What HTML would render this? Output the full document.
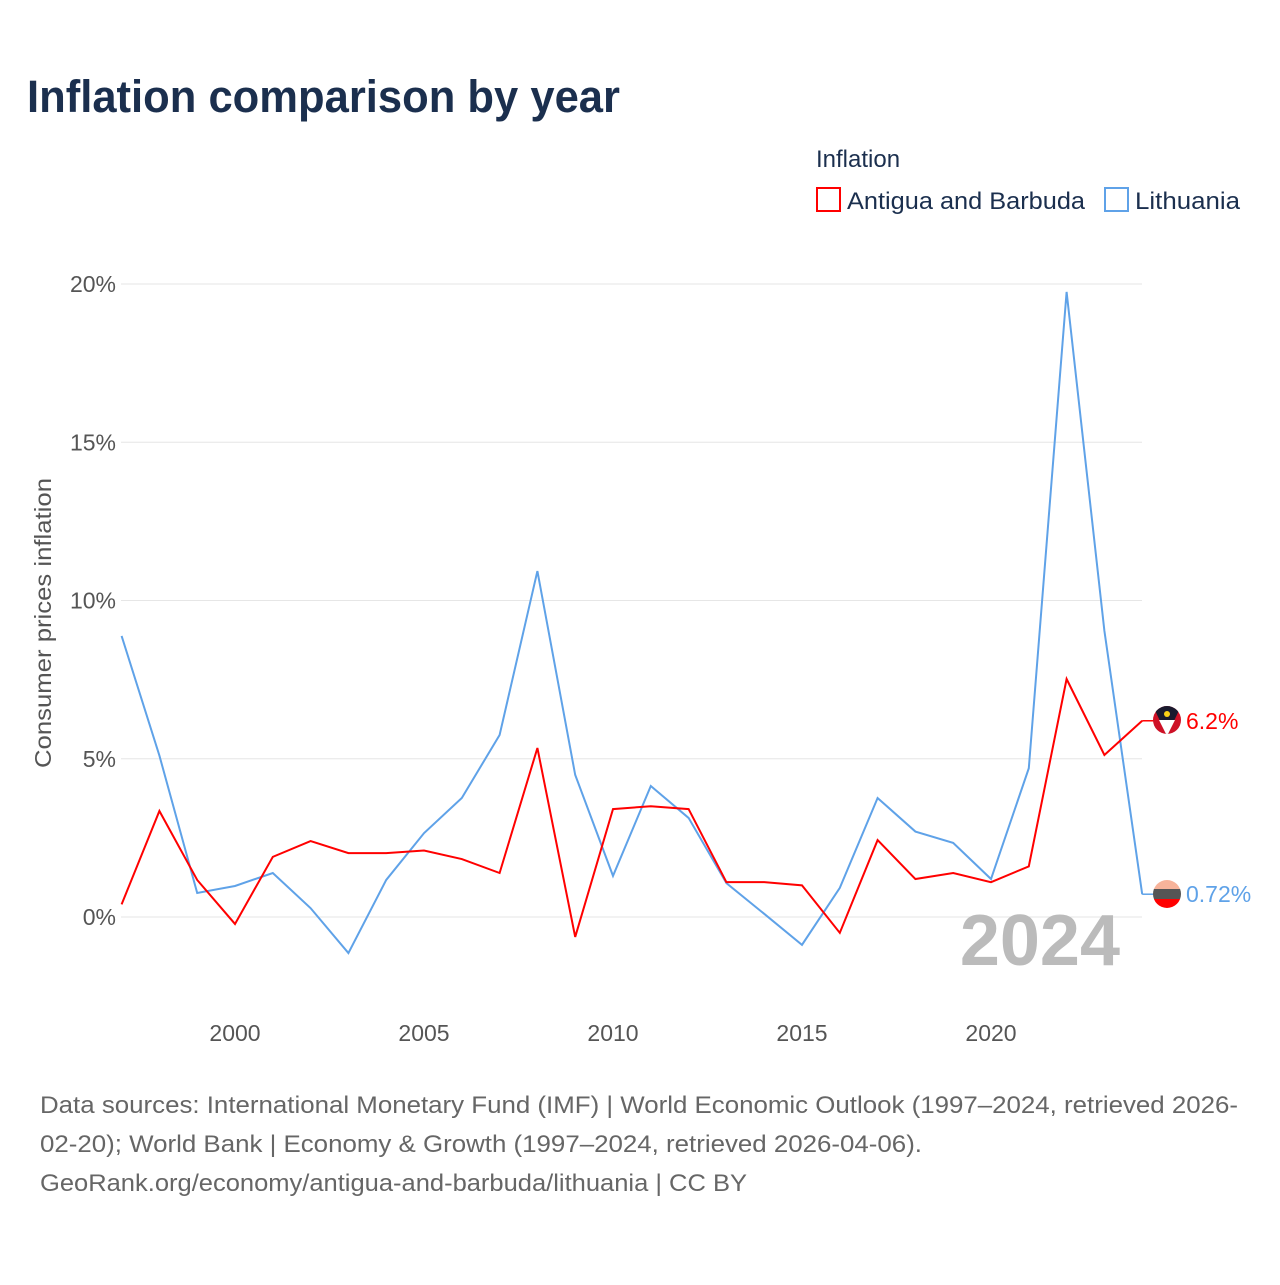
<!DOCTYPE html>
<html><head><meta charset="utf-8"><style>
body{margin:0;background:#fff;font-family:"Liberation Sans",sans-serif}
</style></head><body>
<svg width="1280" height="1280" viewBox="0 0 1280 1280" xmlns="http://www.w3.org/2000/svg">
<defs>
<clipPath id="c1"><circle cx="1167" cy="720" r="14"/></clipPath>
<clipPath id="c2"><circle cx="1167" cy="894" r="14"/></clipPath>
</defs>
<text x="27" y="112" font-size="45" font-weight="bold" fill="#1b2f4e" textLength="593" lengthAdjust="spacingAndGlyphs">Inflation comparison by year</text>
<text x="816" y="167" font-size="24" fill="#1b2f4e">Inflation</text>
<g><rect x="817" y="188" width="23" height="23" fill="none" stroke="#f00" stroke-width="2"/><text x="847" y="209" font-size="24" fill="#1b2f4e" textLength="238" lengthAdjust="spacingAndGlyphs">Antigua and Barbuda</text></g>
<g><rect x="1105" y="188" width="23" height="23" fill="none" stroke="#5fa2e8" stroke-width="2"/><text x="1135" y="209" font-size="24" fill="#1b2f4e" textLength="105" lengthAdjust="spacingAndGlyphs">Lithuania</text></g>
<g id="grid"></g><g id="ticks"></g>
<text transform="translate(51,623) rotate(-90)" text-anchor="middle" font-size="23" fill="#555" textLength="290" lengthAdjust="spacingAndGlyphs">Consumer prices inflation</text>
<text x="1120" y="965" text-anchor="end" font-size="72" font-weight="bold" fill="#bbb">2024</text>
<g id="series"></g>
<g clip-path="url(#c1)">
<rect x="1150" y="703" width="34" height="34" fill="#ce1126"/><polygon points="1153,706 1181,706 1167,736" fill="#1a1a2e"/><polygon points="1159,720 1175,720 1167,736" fill="#fff"/><circle cx="1167" cy="714" r="3" fill="#fcd116"/></g>
<g clip-path="url(#c2)">
<rect x="1150" y="877" width="34" height="12" fill="#f7b39a"/><rect x="1150" y="889" width="34" height="10" fill="#555"/><rect x="1150" y="899" width="34" height="12" fill="#f00"/></g>
<text x="40" y="1113" font-size="24" fill="#666" textLength="1198" lengthAdjust="spacingAndGlyphs">Data sources: International Monetary Fund (IMF) | World Economic Outlook (1997–2024, retrieved 2026-</text>
<text x="40" y="1152" font-size="24" fill="#666" textLength="882" lengthAdjust="spacingAndGlyphs">02-20); World Bank | Economy &amp; Growth (1997–2024, retrieved 2026-04-06).</text>
<text x="40" y="1191" font-size="24" fill="#666" textLength="707" lengthAdjust="spacingAndGlyphs">GeoRank.org/economy/antigua-and-barbuda/lithuania | CC BY</text>
</svg>
<script>
const years=[1997,1998,1999,2000,2001,2002,2003,2004,2005,2006,2007,2008,2009,2010,2011,2012,2013,2014,2015,2016,2017,2018,2019,2020,2021,2022,2023,2024];
const antigua=[0.4,3.35,1.17,-0.22,1.9,2.4,2.02,2.02,2.1,1.83,1.39,5.34,-0.63,3.41,3.5,3.41,1.1,1.1,1.0,-0.5,2.43,1.2,1.39,1.1,1.6,7.52,5.12,6.2];
const lithuania=[8.88,5.1,0.76,0.98,1.39,0.28,-1.14,1.17,2.65,3.76,5.75,10.93,4.49,1.3,4.14,3.13,1.07,0.1,-0.88,0.92,3.76,2.7,2.34,1.2,4.7,19.75,9.04,0.72];
const yTicks=[0,5,10,15,20];
const xTicks=[2000,2005,2010,2015,2020];
const NS="http://www.w3.org/2000/svg";
const X=y=>121.6+(y-1997)*37.8;
const Y=v=>917-v*31.65;
function mk(t,a,p){const e=document.createElementNS(NS,t);for(const k in a)e.setAttribute(k,a[k]);p.appendChild(e);return e;}
const g=document.getElementById('grid'),tk=document.getElementById('ticks'),s=document.getElementById('series');
yTicks.forEach(v=>{
 const l=mk('line',{x1:121,x2:1142,y1:Y(v),y2:Y(v),stroke:'#e6e6e6','stroke-width':1},g);
 
 
 const t=mk('text',{x:116,y:Y(v)+8,'text-anchor':'end','font-size':23,fill:'#555'},tk);t.textContent=v+'%';
 
 
});
xTicks.forEach(v=>{
 const t=mk('text',{x:X(v),y:1041,'text-anchor':'middle','font-size':23,fill:'#555'},tk);t.textContent=v;
 
 
});
function series(vals,col,name,label){
 const d=vals.map((v,i)=>(i?'L':'M')+X(years[i])+','+Y(v)).join(' ');
 const p=mk('path',{d:d,fill:'none',stroke:col,'stroke-width':2},s);
 
 
 const last=vals[vals.length-1],ex=X(years[years.length-1]);
 mk('line',{x1:ex,x2:1156,y1:Y(last),y2:Y(last),stroke:col,'stroke-width':1.5},s);
 const t=mk('text',{x:1186,y:Y(last)+8,'font-size':23,fill:col},s);t.textContent=label;
 
 
}
series(lithuania,'#5fa2e8','lithuania','0.72%');
series(antigua,'#f00','antigua','6.2%');
</script>
</body></html>
